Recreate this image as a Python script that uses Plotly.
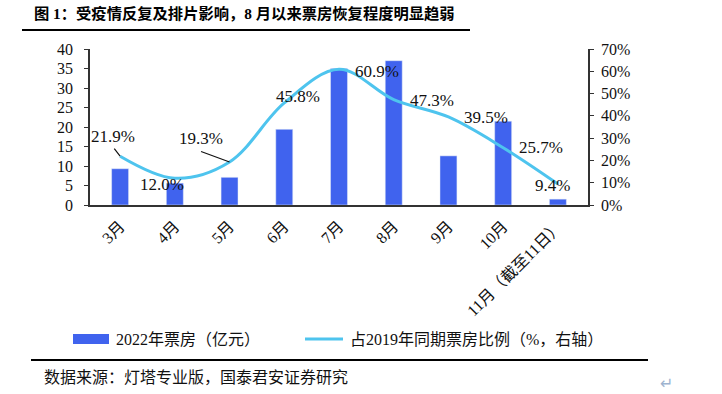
import plotly.graph_objects as go

# ---- data ----
months = ["3月", "4月", "5月", "6月", "7月", "8月", "9月", "10月", "11月（截至11日）"]
box_office = [9.3, 5.6, 7.1, 19.4, 35.0, 37.0, 12.6, 21.5, 1.5]   # 亿元
ratio_2019 = [21.9, 12.0, 19.3, 45.8, 60.9, 47.3, 39.5, 25.7, 9.4]  # %
left_ticks = [0, 5, 10, 15, 20, 25, 30, 35, 40]
right_ticks = [0, 10, 20, 30, 40, 50, 60, 70]

title_text = "图 1：受疫情反复及排片影响，8 月以来票房恢复程度明显趋弱"
bar_name = "2022年票房（亿元）"
line_name = "占2019年同期票房比例（%，右轴）"
source_text = "数据来源：灯塔专业版，国泰君安证券研究"

# label offsets (pixels) for the percentage labels
label_shift = [(-7, 20), (-13, -6), (-29, 23), (14, 6), (38, -2), (38, -1), (38, -1), (38, 0), (-5, -1)]
leaders = {0: (-7, -9), 2: (-30, -11)}

BAR = "#4063EE"
LINE = "#4EC4EE"
SERIF = "Liberation Serif, Noto Sans CJK SC"
CJK = "Liberation Serif, Noto Sans CJK SC"

W, H = 722, 394
L, R, T, B = 90, 588, 49, 205


def px(x):
    return (x - L) / (R - L)


def py(y):
    return (B - y) / (B - T)


fig = go.Figure()
fig.add_trace(go.Bar(x=months, y=box_office, name=bar_name, marker_color=BAR,
                     width=0.31, showlegend=False))
fig.add_trace(go.Scatter(x=months, y=ratio_2019, name=line_name, yaxis="y2", mode="lines",
                         line=dict(color=LINE, width=3, shape="spline", smoothing=1.0),
                         showlegend=False))

ann = []
for i, (m, v) in enumerate(zip(months, ratio_2019)):
    dx, dy = label_shift[i]
    ann.append(dict(x=m, y=v, xref="x", yref="y2", text=f"{v:.1f}%", showarrow=False,
                    xshift=dx, yshift=dy, font=dict(family=SERIF, size=17, color="#111")))
    if i in leaders:
        ax, ay = leaders[i]
        ann.append(dict(x=m, y=v, xref="x", yref="y2", text="", showarrow=True,
                        ax=ax, ay=ay, arrowhead=0, arrowwidth=1.2, arrowcolor="#111",
                        standoff=0))

# title
ann.append(dict(x=px(32), y=py(14), xref="paper", yref="paper", text=f"<b>{title_text}</b>",
                showarrow=False, xanchor="left", yanchor="middle",
                font=dict(family=CJK, size=15.3, color="#000")))
# legend texts
ann.append(dict(x=px(114), y=py(339), xref="paper", yref="paper", text=bar_name,
                showarrow=False, xanchor="left", yanchor="middle",
                font=dict(family=CJK, size=16, color="#111")))
ann.append(dict(x=px(348), y=py(339), xref="paper", yref="paper", text=line_name,
                showarrow=False, xanchor="left", yanchor="middle",
                font=dict(family=CJK, size=16, color="#111")))
# source
ann.append(dict(x=px(42), y=py(377), xref="paper", yref="paper", text=source_text,
                showarrow=False, xanchor="left", yanchor="middle",
                font=dict(family=CJK, size=16, color="#111")))
ann.append(dict(x=px(666), y=py(383), xref="paper", yref="paper", text="↵",
                showarrow=False, xanchor="center", yanchor="middle",
                font=dict(family="DejaVu Sans", size=16, color="#9DB3CF")))

shapes = [
    dict(type="line", xref="paper", yref="paper", x0=px(22), x1=px(470), y0=py(30), y1=py(30),
         line=dict(color="#000", width=2)),
    dict(type="line", xref="paper", yref="paper", x0=px(31), x1=px(648), y0=py(360), y1=py(360),
         line=dict(color="#000", width=2)),
    dict(type="rect", xref="paper", yref="paper", x0=px(73), x1=px(109), y0=py(334), y1=py(344),
         fillcolor=BAR, line=dict(width=0)),
    dict(type="line", xref="paper", yref="paper", x0=px(305), x1=px(343), y0=py(339), y1=py(339),
         line=dict(color=LINE, width=3)),
]

fig.update_layout(
    width=W, height=H,
    margin=dict(l=L, r=W - R, t=T, b=H - B),
    paper_bgcolor="white", plot_bgcolor="white",
    showlegend=False,
    xaxis=dict(type="category", range=[-0.55, 8.55], showline=True, linecolor="#333", linewidth=1.5,
               ticks="", tickangle=-45, tickfont=dict(family=SERIF, size=16, color="#111"),
               showgrid=False, zeroline=False, ticklabelstandoff=4),
    yaxis=dict(range=[0, 40], tickvals=left_ticks, showline=True, linecolor="#333", linewidth=1.5,
               ticks="outside", ticklen=4, tickcolor="#333", showgrid=False, zeroline=False,
               ticklabelstandoff=8, tickfont=dict(family=SERIF, size=16, color="#111")),
    yaxis2=dict(range=[0, 70], tickvals=right_ticks, ticktext=[f"{t}%" for t in right_ticks],
                overlaying="y", side="right", showline=True, linecolor="#333", linewidth=1.5,
                ticks="outside", ticklen=4, tickcolor="#333", showgrid=False, zeroline=False,
                ticklabelstandoff=4, tickfont=dict(family=SERIF, size=16, color="#111")),
    annotations=ann,
    shapes=shapes,
)

fig.write_html("out.html", config={"displayModeBar": False},
               post_script="document.body.style.margin='0';")
